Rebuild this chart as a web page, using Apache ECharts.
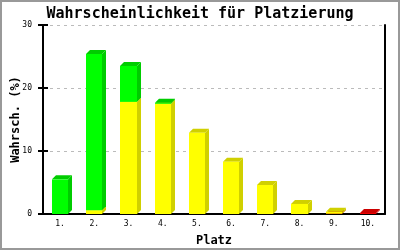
<!DOCTYPE html>
<html><head><meta charset="utf-8">
<script src="https://cdn.jsdelivr.net/npm/echarts@6/dist/echarts.min.js"></script>
<style>html,body{margin:0;padding:0;background:#fff}#c{width:400px;height:250px}</style>
</head><body><div id="c"></div>
<script>
const categories = ['1.','2.','3.','4.','5.','6.','7.','8.','9.','10.'];
const redValues = [0,0,0,0,0,0,0,0,0.05,0.15];
const yellowValues = [0,0.6,17.8,17.5,12.9,8.3,4.6,1.6,0.3,0];
const greenValues = [5.5,24.8,5.7,0.15,0,0,0,0,0,0];
const yTicks = [0,10,20,30];

const layers = [
  {name:'rot', values:redValues, front:'#ff0000', side:'#cc0000'},
  {name:'gelb', values:yellowValues, front:'#ffff00', side:'#d0d000'},
  {name:'grün', values:greenValues, front:'#00ff00', side:'#00cc00'}
];
const cum = categories.map(()=>0);
const series = layers.map(L=>{
  const data = L.values.map((v,i)=>{const b=cum[i]; cum[i]+=v; return [i,b,cum[i]];});
  return {
    type:'custom', name:L.name, xAxisIndex:0, yAxisIndex:0,
    data: data.filter(d=>d[2]>d[1]),
    renderItem:(params, api)=>{
      const i=api.value(0), b=api.value(1), t=api.value(2);
      const p0=api.coord([i,b]), p1=api.coord([i,t]);
      const w=api.size([1,0])[0]*0.47, d=4;
      const l=Math.round(p0[0]-w/2), r=Math.round(p0[0]+w/2);
      const yb=p0[1], yt=p1[1];
      return {type:'group', children:[
        {type:'polygon', shape:{points:[[r,yt],[r+d,yt-d],[r+d,yb-d],[r,yb]]}, style:{fill:L.side}},
        {type:'polygon', shape:{points:[[l,yt],[l+d,yt-d],[r+d,yt-d],[r,yt]]}, style:{fill:L.side}},
        {type:'rect', shape:{x:l,y:yt,width:r-l,height:yb-yt}, style:{fill:L.front}}
      ]};
    },
    encode:{x:0,y:[1,2]}
  };
});

const chart = echarts.init(document.getElementById('c'), null, {renderer:'canvas'});
const yBase = {type:'value', min:yTicks[0], max:yTicks[yTicks.length-1], interval:10};
chart.setOption({
  animation:false,
  title:{text:'Wahrscheinlichkeit für Platzierung', left:'center', top:2,
    textStyle:{fontFamily:'DejaVu Sans Mono', fontSize:15, fontWeight:'bold', color:'#000'}},
  graphic:[{type:'rect', shape:{x:1,y:1,width:398,height:248}, style:{fill:null, stroke:'#999', lineWidth:2}, silent:true}],
  grid:{left:43, right:15, top:25, bottom:36, outerBoundsMode:'none', containLabel:false},
  xAxis:{type:'category', data:categories, name:'Platz', nameLocation:'middle', nameGap:21, nameMoveOverlap:false,
    nameTextStyle:{fontFamily:'DejaVu Sans Mono', fontSize:12, fontWeight:'bold', color:'#000'},
    axisLine:{lineStyle:{color:'#000', width:2}}, axisTick:{show:false},
    axisLabel:{fontFamily:'DejaVu Sans Mono', fontSize:8, color:'#000', margin:6}},
  yAxis:[
    Object.assign({}, yBase, {position:'left', name:'Wahrsch. (%)', nameLocation:'middle', nameGap:21, nameMoveOverlap:false,
      nameTextStyle:{fontFamily:'DejaVu Sans Mono', fontSize:12, fontWeight:'bold', color:'#000'},
      axisLine:{show:true, lineStyle:{color:'#000', width:2}},
      axisTick:{show:true, length:5, lineStyle:{color:'#000', width:2}},
      axisLabel:{fontFamily:'DejaVu Sans Mono', fontSize:8, color:'#000', margin:11},
      splitLine:{show:true, lineStyle:{color:'#bbb', type:[3,4], width:1}}}),
    Object.assign({}, yBase, {position:'left', axisLine:{show:false},
      axisTick:{show:true, inside:true, length:5, lineStyle:{color:'#000', width:2}},
      axisLabel:{show:false}, splitLine:{show:false}}),
    Object.assign({}, yBase, {position:'right', axisLine:{show:true, lineStyle:{color:'#000', width:2}},
      axisTick:{show:false}, axisLabel:{show:false}, splitLine:{show:false}})
  ],
  series: series
});
</script></body></html>
